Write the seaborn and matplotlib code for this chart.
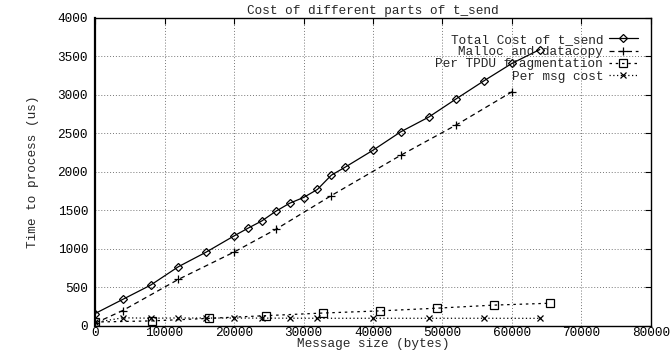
import numpy as np
import pandas as pd
import matplotlib
matplotlib.use("Agg")
import matplotlib.pyplot as plt
import seaborn as sns

# Values
total_x = [0, 4000, 8000, 12000, 16000, 20000, 22000, 24000, 26000, 28000, 30000,
           32000, 34000, 36000, 40000, 44000, 48000, 52000, 56000, 60000, 64000]
total_y = [155, 340, 525, 765, 955, 1165, 1265, 1360, 1485, 1590, 1665,
           1770, 1955, 2060, 2280, 2520, 2710, 2950, 3185, 3410, 3590]

malloc_x = [0, 4000, 12000, 20000, 26000, 34000, 44000, 52000, 60000]
malloc_y = [30, 195, 600, 955, 1250, 1690, 2215, 2610, 3040]

tpdu_x = [0, 8192, 16384, 24576, 32768, 40960, 49152, 57344, 65536]
tpdu_y = [45, 60, 93, 128, 162, 190, 225, 265, 290]

msg_x = [0, 4000, 8000, 12000, 16000, 20000, 24000, 28000, 32000, 40000, 48000, 56000, 64000]
msg_y = [40, 100, 95, 98, 97, 97, 96, 95, 94, 94, 94, 94, 93]

x_ticks = np.arange(0, 80001, 10000)
y_ticks = np.arange(0, 4001, 500)

sns.set_style("white")
plt.rcParams["font.family"] = ["Liberation Mono", "DejaVu Sans Mono"]
fs = 9.2
plt.rcParams["font.size"] = fs

fig = plt.figure(figsize=(6.71, 3.51), dpi=100)
ax = fig.add_axes([95 / 671, 1 - 325.5 / 351, (651 - 95) / 671, (325.5 - 18) / 351])

line_kw = dict(color="black", linewidth=0.9, markeredgecolor="black", markeredgewidth=0.9)

sns.lineplot(x=total_x, y=total_y, ax=ax, marker="D", markersize=4.5,
             markerfacecolor="none", label="Total Cost of t_send", **line_kw)
sns.lineplot(x=malloc_x, y=malloc_y, ax=ax, linestyle=(0, (4, 3)), marker="+",
             markersize=6, label="Malloc and datacopy", **line_kw)
sns.lineplot(x=tpdu_x, y=tpdu_y, ax=ax, linestyle=(0, (2, 3)), marker="s",
             markersize=6, markerfacecolor="none",
             label="Per TPDU fragmentation", **line_kw)
sns.lineplot(x=msg_x, y=msg_y, ax=ax, linestyle=(0, (1, 2)), marker="x",
             markersize=5, label="Per msg cost", **line_kw)

ax.set_xlim(0, 80000)
ax.set_ylim(0, 4000)
ax.set_xticks(x_ticks)
ax.set_yticks(y_ticks)
ax.grid(True, color="#777777", linestyle=(0, (1, 2)), linewidth=0.7)
ax.tick_params(direction="in", length=4, width=0.8, top=True, right=True,
               colors="black", labelsize=fs)
ax.tick_params(axis="x", pad=1)
ax.tick_params(axis="y", pad=5)
for side in ax.spines.values():
    side.set_color("black")
    side.set_linewidth(1.0)
ax.spines["left"].set_linewidth(1.6)

ax.set_title("Cost of different parts of t_send", fontsize=fs, pad=3)
ax.set_xlabel("Message size (bytes)", fontsize=fs, labelpad=-0.5)
ax.set_ylabel("Time to process (us)", fontsize=fs, labelpad=13)

leg = ax.legend(loc="upper right", bbox_to_anchor=(0.985, 0.965), frameon=False,
                markerfirst=False, handlelength=2.2, handletextpad=0.5,
                labelspacing=0.02, borderaxespad=0, fontsize=fs)

fig.savefig("out.png", dpi=100)
